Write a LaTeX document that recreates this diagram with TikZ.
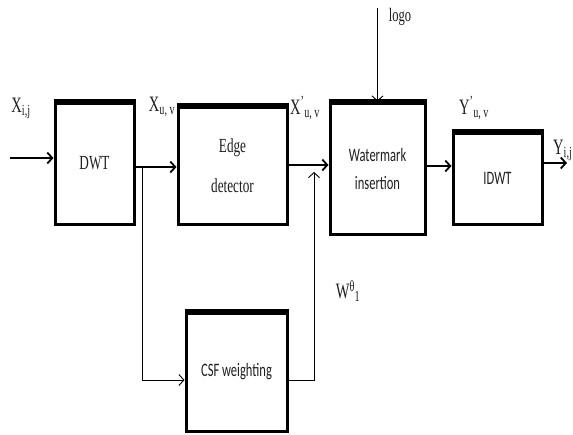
\documentclass[tikz,border=0pt]{standalone}
\usepackage{fontspec}
\usepackage{graphicx}
\setmainfont{Liberation Serif}
\newfontfamily\cfont{Carlito}
\usetikzlibrary{arrows.meta,positioning,calc}
\definecolor{ink}{gray}{0.12}
% the scan is squeezed sideways, so the letters are too
\newcommand{\sqz}[1]{\scalebox{0.66}[1]{#1}}
\tikzset{
  box/.style={draw,line width=3pt,align=center,inner sep=0pt,text=ink},
  boxs/.style={box,font=\fontsize{19}{22}\selectfont\cfont},
  boxr/.style={box,font=\fontsize{20}{24}\selectfont},
  lbl/.style={font=\fontsize{22}{24}\selectfont,text=ink,inner sep=0pt},
  fl/.style={-{Straight Barb[length=5pt,width=11pt]},line width=1.8pt},
  fln/.style={fl,line width=0.9pt},
  ln/.style={line width=0.9pt},
}
\begin{document}
\begin{tikzpicture}[x=1pt, y=-1pt]
  \useasboundingbox (0,0) rectangle (573,434);
  \node[boxr, minimum width=79pt, minimum height=121pt] (dwt) at (94.5,163.5)
       {\sqz{DWT}};
  \node[boxr, minimum width=109pt, minimum height=117pt] (edge) at (232.5,165.5)
       {\sqz{Edge}\\[16pt]\sqz{detector}};
  \node[boxs, minimum width=95pt, minimum height=131pt] (wm) at (377.5,168.5)
       {\sqz{Watermark}\\[6pt]\sqz{insertion}};
  \node[boxs, minimum width=89pt, minimum height=91pt] (idwt) at (497.5,178.5)
       {\sqz{IDWT}};
  \node[boxs, minimum width=101pt, minimum height=118pt] (csf) at (236.5,372)
       {\sqz{CSF weighting}};
  % heavier top edges
  \foreach \b in {dwt,edge,wm,idwt,csf}
    \draw[line width=5pt] (\b.north west) -- (\b.north east);

  \node[lbl] (xij) at (21,108) {\sqz{X\textsubscript{i,j}}};
  \node[lbl] (xuv) at (162,107) {\sqz{X\textsubscript{u, v}}};
  \node[lbl] (xpuv) at (305,108) {\sqz{X\textsuperscript{’}\textsubscript{u, v}}};
  \node[lbl] (ypuv) at (474,108) {\sqz{Y\textsuperscript{’}\textsubscript{u, v}}};
  \node[lbl, anchor=west] (yij) at (553,150) {\sqz{Y\textsubscript{i,j}}};
  \node[lbl, font=\fontsize{19}{22}\selectfont] (logo) at (400,17)
       {\sqz{logo}};
  \node[lbl] (wt) at (348,291) {\sqz{W\textsuperscript{θ}\textsubscript{1}}};

  \coordinate (in) at (10,158);
  \coordinate (out) at (567,163);
  \coordinate (br) at (142,167);
  \coordinate (wj) at (314,172);
  \draw[fl] (in) -- (in -| dwt.west);
  \draw[fl] (dwt.east |- br) -- (edge.west |- br);
  \draw[fl] (edge.east |- 0,165) -- (wm.west |- 0,165);
  \draw[fl] (wm.east |- 0,166) -- (idwt.west |- 0,166);
  \draw[fl] (idwt.east |- out) -- (out);
  \draw[fln] (br) |- ([yshift=-8pt]csf.west);
  \draw[fln] ([yshift=-8pt]csf.east) -| (wj);
  \draw[fln] (wm.north |- 0,8) -- (wm.north);
\end{tikzpicture}
\end{document}
